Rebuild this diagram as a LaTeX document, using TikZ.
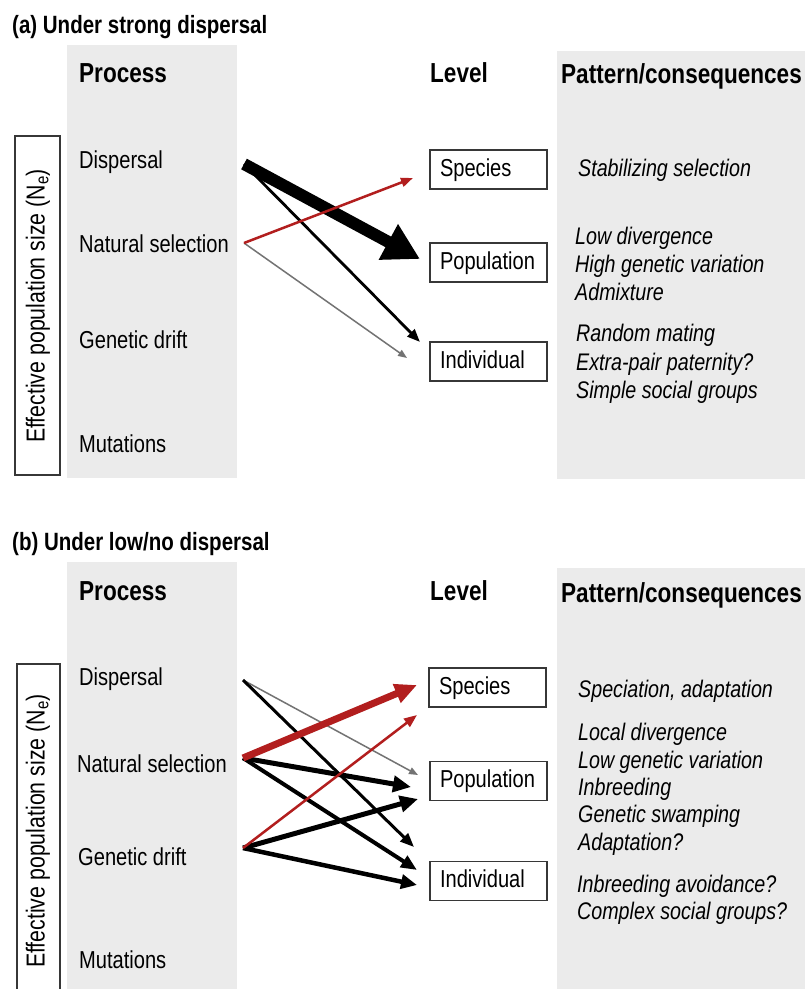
\documentclass[tikz,border=0pt]{standalone}
\usepackage{fontspec}
\setmainfont{Liberation Sans}[FakeStretch=0.82]
\usetikzlibrary{arrows.meta}
\definecolor{panel}{RGB}{235,235,235}
\definecolor{arrred}{RGB}{178,30,30}
\definecolor{boxline}{RGB}{55,55,55}
\begin{document}
\begin{tikzpicture}[x=1pt,y=-1pt,
  panelbg/.style={fill=panel, draw=none},
  proc/.style={anchor=base west, inner sep=0pt, font=\fontsize{24.5}{28}\selectfont},
  hdr/.style={anchor=base west, inner sep=0pt, font=\bfseries\fontsize{27.5}{30}\selectfont},
  ttl/.style={anchor=base west, inner sep=0pt, font=\bfseries\fontsize{25}{30}\selectfont},
  pat/.style={anchor=base west, inner sep=0pt, font=\itshape\fontsize{24}{26}\selectfont},
  lvl/.style={draw=boxline, line width=1.5pt, fill=white, text width=97pt, inner xsep=10pt, inner ysep=0pt, minimum height=39pt, text height=17pt, text depth=4pt, align=left, font=\fontsize{24.5}{28}\selectfont},
  nebox/.style={draw=boxline, line width=1.5pt, fill=white, inner sep=0pt},
  nelabel/.style={rotate=90, inner sep=0pt, font=\fontsize{26}{28}\selectfont},
  conn/.style n args={4}{draw=#1, line width=#2, -{Triangle[length=#3,width=#4]}}
]
\useasboundingbox (0,0) rectangle (805,989);
\fill[white] (0,0) rectangle (805,989);

% ================= panel (a) =================
\node[ttl] (titleA) at (12,33) {(a) Under strong dispersal};
\fill[panel] (67,45) rectangle (237,478);
\fill[panel] (557,51) rectangle (805,479);

\node[nebox, minimum width=45pt, minimum height=339pt] (neboxA) at (37.5,305.5) {};
\node[nelabel] (neA) at (38,306) {Effective population size (N\textsubscript{e})};

\node[hdr] (procA) at (79,82) {Process};
\node[hdr] (levA) at (430,82) {Level};
\node[hdr] (patA) at (561,83) {Pattern/consequences};

\node[proc] (dispA) at (79,168) {Dispersal};
\node[proc] (natA) at (79,252) {Natural selection};
\node[proc] (gdA) at (79,348) {Genetic drift};
\node[proc] (mutA) at (79,452) {Mutations};

\node[lvl] (spA) at (488.5,169.5) {Species};
\node[lvl] (popA) at (488.5,262.5) {Population};
\node[lvl] (indA) at (488.5,361.5) {Individual};

\node[pat] (pa1) at (578,176) {Stabilizing selection};
\node[pat] (pa2) at (575,244) {Low divergence};
\node[pat] (pa3) at (575,272) {High genetic variation};
\node[pat] (pa4) at (575,300) {Admixture};
\node[pat] (pa5) at (576,341) {Random mating};
\node[pat] (pa6) at (576,370) {Extra-pair paternity?};
\node[pat] (pa7) at (576,398) {Simple social groups};

\coordinate (aD) at (244,164);
\coordinate (aN) at (244,243);
\coordinate (aPopT) at (420,259);
\coordinate (aIndT1) at (420,342);
\coordinate (aSpT) at (413,178);
\coordinate (aIndT2) at (407,358);

\draw[conn={black!55}{1.5pt}{9pt}{7pt}] (aN) -- (aIndT2);
\draw[conn={black}{2.8pt}{13pt}{10pt}] (aD) -- (aIndT1);
\draw[conn={black}{12pt}{36pt}{38pt}] (aD) -- (aPopT);
\draw[conn={arrred}{2.5pt}{12pt}{9pt}] (aN) -- (aSpT);

% ================= panel (b) =================
\node[ttl] (titleB) at (12,550) {(b) Under low/no dispersal};
\fill[panel] (67,562) rectangle (237,989);
\fill[panel] (557,568) rectangle (805,989);

\node[nebox, minimum width=43pt, minimum height=340pt] (neboxB) at (38.5,834) {};
\node[nelabel] (neB) at (38,831) {Effective population size (N\textsubscript{e})};

\node[hdr] (procB) at (79,600) {Process};
\node[hdr] (levB) at (430,600) {Level};
\node[hdr] (patB) at (561,602) {Pattern/consequences};

\node[proc] (dispB) at (79,685) {Dispersal};
\node[proc] (natB) at (77,772) {Natural selection};
\node[proc] (gdB) at (78,865) {Genetic drift};
\node[proc] (mutB) at (79,968) {Mutations};

\node[lvl] (spB) at (487.5,687.5) {Species};
\node[lvl] (popB) at (488.5,781) {Population};
\node[lvl] (indB) at (488.5,881) {Individual};

\node[pat] (pb1) at (578,697) {Speciation, adaptation};
\node[pat] (pb2) at (578,740) {Local divergence};
\node[pat] (pb3) at (578,768) {Low genetic variation};
\node[pat] (pb4) at (578,795) {Inbreeding};
\node[pat] (pb5) at (578,822) {Genetic swamping};
\node[pat] (pb6) at (578,850) {Adaptation?};
\node[pat] (pb7) at (577,892) {Inbreeding avoidance?};
\node[pat] (pb8) at (577,919) {Complex social groups?};

\coordinate (bD) at (243,680);
\coordinate (bN) at (243,758);
\coordinate (bG) at (243,848);
\coordinate (bPopT1) at (418,775);
\coordinate (bIndT1) at (414,847);
\coordinate (bSpT1) at (417,685);
\coordinate (bPopT2) at (411,787);
\coordinate (bIndT2) at (417,870);
\coordinate (bSpT2) at (417,715);
\coordinate (bPopT3) at (418,799);
\coordinate (bIndT3) at (417,885);

\draw[conn={black!55}{1.5pt}{9pt}{7pt}] (bD) -- (bPopT1);
\draw[conn={black}{3pt}{14pt}{11pt}] (bD) -- (bIndT1);
\draw[conn={black}{5pt}{18pt}{16pt}] (bN) -- (bPopT2);
\draw[conn={black}{4pt}{16pt}{13pt}] (bN) -- (bIndT2);
\draw[conn={black}{5pt}{18pt}{16pt}] (bG) -- (bPopT3);
\draw[conn={black}{4.5pt}{16pt}{14pt}] (bG) -- (bIndT3);
\draw[conn={arrred}{2.5pt}{13pt}{10pt}] (bG) -- (bSpT2);
\draw[conn={arrred}{7pt}{22pt}{19pt}] (bN) -- (bSpT1);
\end{tikzpicture}
\end{document}
